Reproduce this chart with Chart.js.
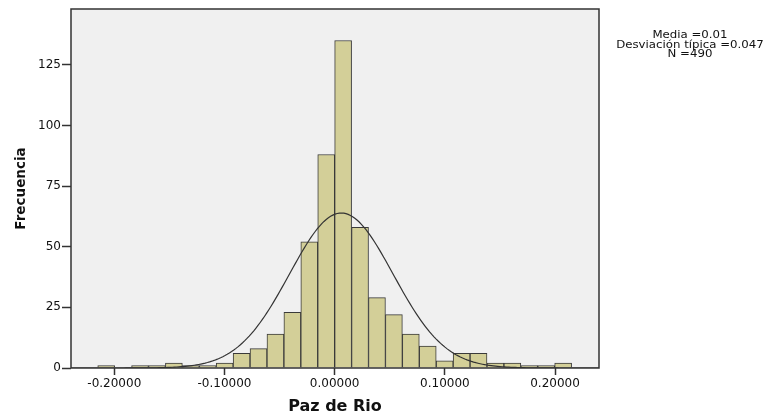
<!DOCTYPE html>
<html>
<head>
<meta charset="utf-8">
<script src="https://cdn.jsdelivr.net/npm/chart.js@4"></script>
<style>
  html, body { margin: 0; padding: 0; background: #ffffff; }
  #wrap { width: 771px; height: 415px; }
</style>
</head>
<body>
<div id="wrap"><canvas id="c" width="771" height="415"></canvas></div>
<script>
// ---- data ----
const BIN_WIDTH = 0.01536;
const BIN_CENTERS = [-0.20736, -0.19200, -0.17664, -0.16128, -0.14592, -0.13056, -0.11520,
  -0.09984, -0.08448, -0.06912, -0.05376, -0.03840, -0.02304, -0.00768,
  0.00768, 0.02304, 0.03840, 0.05376, 0.06912, 0.08448, 0.09984,
  0.11520, 0.13056, 0.14592, 0.16128, 0.17664, 0.19200, 0.20736];
const FREQUENCIES = [1, 0, 1, 1, 2, 1, 1, 2, 6, 8, 14, 23, 52, 88, 135, 58, 29, 22, 14, 9, 3, 6, 6, 2, 2, 1, 1, 2];
const X_TICKS = [-0.2, -0.1, 0, 0.1, 0.2];
const Y_TICKS = [0, 25, 50, 75, 100, 125];
const X_MIN = -0.2393, X_MAX = 0.2399;
const Y_MAX = 148;
const MEAN = 0.006;   // shown rounded as 0.01
const SD = 0.047;
const N = 490;
const STATS_LINES = ['Media =0.01', 'Desviación típica =0.047', 'N =490'];
const X_TITLE = 'Paz de Rio';
const Y_TITLE = 'Frecuencia';

// bars
const barData = BIN_CENTERS.map((x, i) => ({ x: x, y: FREQUENCIES[i] }));

// fitted normal curve scaled to counts (from the reported mean, SD and N)
const curveData = [];
const STEPS = 240;
for (let i = 0; i <= STEPS; i++) {
  const x = X_MIN + (X_MAX - X_MIN) * i / STEPS;
  const z = (x - MEAN) / SD;
  curveData.push({ x: x, y: N * BIN_WIDTH / (SD * Math.sqrt(2 * Math.PI)) * Math.exp(-0.5 * z * z) });
}

const frame = {
  id: 'frame',
  beforeDatasetsDraw(chart) {
    const { ctx, chartArea: a } = chart;
    ctx.save();
    ctx.fillStyle = '#F0F0F0';
    ctx.fillRect(a.left, a.top, a.right - a.left, a.bottom - a.top);
    ctx.restore();
  },
  afterDraw(chart) {
    const { ctx, chartArea: a } = chart;
    ctx.save();
    ctx.strokeStyle = '#333333';
    ctx.lineWidth = 1.5;
    ctx.strokeRect(a.left, a.top, a.right - a.left, a.bottom - a.top);
    // statistics text
    ctx.fillStyle = '#111111';
    ctx.font = '11px "DejaVu Sans"';
    ctx.textAlign = 'center';
    ctx.textBaseline = 'middle';
    const cx = 690;
    const ys = [35.5, 45, 54];
    STATS_LINES.forEach((t, i) => {
      ctx.save();
      ctx.translate(cx, ys[i]);
      ctx.scale(1.07, 1);
      ctx.fillText(t, 0, 0);
      ctx.restore();
    });
    ctx.restore();
  }
};

new Chart(document.getElementById('c'), {
  type: 'bar',
  data: {
    datasets: [
      {
        type: 'line',
        data: curveData,
        borderColor: '#333333',
        borderWidth: 1.2,
        pointRadius: 0,
        fill: false,
        tension: 0,
        order: 0
      },
      {
        type: 'bar',
        data: barData,
        backgroundColor: '#D3CF98',
        borderColor: '#3a3a3a',
        borderWidth: 1,
        barPercentage: 1,
        categoryPercentage: 1,
        order: 1
      }
    ]
  },
  options: {
    responsive: false,
    animation: false,
    events: [],
    layout: { padding: { left: 0, right: 172, top: 9, bottom: 0 } },
    plugins: { legend: { display: false }, tooltip: { enabled: false } },
    scales: {
      x: {
        type: 'linear',
        min: X_MIN,
        max: X_MAX,
        offset: false,
        afterBuildTicks: s => { s.ticks = X_TICKS.map(v => ({ value: v })); },
        afterFit: s => { s.height = 47; },
        ticks: {
          color: '#111111',
          font: { family: 'DejaVu Sans', size: 12 },
          padding: 2,
          maxRotation: 0,
          autoSkip: false,
          callback: v => Number(v).toFixed(5)
        },
        grid: { display: true, offset: false, drawOnChartArea: false, drawTicks: true, tickLength: 7, tickColor: '#333333', tickWidth: 1.5 },
        border: { display: false },
        title: {
          display: true,
          text: X_TITLE,
          color: '#111111',
          font: { family: 'DejaVu Sans', size: 16, weight: 'bold', lineHeight: 1 },
          padding: { top: 0, bottom: 0 }
        }
      },
      y: {
        type: 'linear',
        min: 0,
        max: Y_MAX,
        afterBuildTicks: s => { s.ticks = Y_TICKS.map(v => ({ value: v })); },
        afterFit: s => { s.width = 71; },
        ticks: {
          color: '#111111',
          font: { family: 'DejaVu Sans', size: 12 },
          padding: 1
        },
        grid: { display: true, offset: false, drawOnChartArea: false, drawTicks: true, tickLength: 9, tickColor: '#333333', tickWidth: 1.5 },
        border: { display: false },
        title: {
          display: true,
          text: Y_TITLE,
          color: '#111111',
          font: { family: 'DejaVu Sans', size: 13.5, weight: 'bold', lineHeight: 1 },
          padding: { top: 15, bottom: 0 }
        }
      }
    }
  },
  plugins: [frame]
});
</script>
</body>
</html>
